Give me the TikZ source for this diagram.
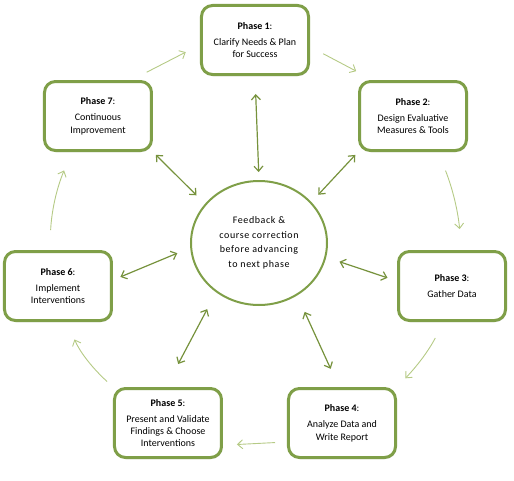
\documentclass[tikz,border=0pt]{standalone}
\usepackage{fontspec}
\setmainfont{Carlito}
\newfontfamily\spaced[LetterSpace=6]{Carlito}
\usetikzlibrary{arrows.meta,shapes.geometric,shadows}
\definecolor{phasegreen}{HTML}{7F9F48}
\definecolor{linkgreen}{HTML}{76923C}
\definecolor{cyclegreen}{HTML}{B5CA85}

\begin{document}
\begin{tikzpicture}[x=1pt,y=1pt,
    phase/.style={draw=phasegreen, line width=3pt, rounded corners=11pt, fill=white,
      minimum width=107pt, minimum height=69pt, align=center,
      font=\fontsize{10}{12.3}\selectfont,
      drop shadow={shadow xshift=1pt,shadow yshift=-1.5pt,opacity=.3}},
    hub/.style={ellipse, draw=phasegreen, line width=2pt, minimum width=136pt,
      minimum height=124pt, align=center, font=\spaced\fontsize{10}{14.6}\selectfont},
    link/.style={{Straight Barb[length=5pt,width=9pt]}-{Straight Barb[length=5pt,width=9pt]},
      draw=linkgreen, line width=1.2pt},
    cyc/.style={-{Straight Barb[length=5pt,width=9pt]}, draw=cyclegreen, line width=0.9pt}]

  \useasboundingbox (-259,243) rectangle (255,-237);

  \node[hub]   (fb) at (0,0)       {Feedback \&\\course correction\\before advancing\\to next phase};
  \node[phase] (p1) at (-4,203)    {\textbf{Phase 1}:\\[4pt]Clarify Needs \& Plan\\for Success};
  \node[phase] (p2) at (154,127)   {\textbf{Phase 2}:\\[4pt]Design Evaluative\\Measures \& Tools};
  \node[phase] (p3) at (193,-43)   {\textbf{Phase 3}:\\[4pt]Gather Data};
  \node[phase] (p4) at (83,-180)   {\textbf{Phase 4}:\\[4pt]Analyze Data and\\Write Report};
  \node[phase] (p5) at (-91,-180)  {\textbf{Phase 5}:\\[4pt]Present and Validate\\Findings \& Choose\\Interventions};
  \node[phase] (p6) at (-201,-43)  {\textbf{Phase 6}:\\[4pt]Implement\\Interventions};
  \node[phase] (p7) at (-161,127)  {\textbf{Phase 7}:\\[4pt]Continuous\\Improvement};

  % feedback links
  \path (p1.south) edge[link, shorten <=18pt, shorten >=8pt] (fb.north);
  \path (p2.south west) edge[link, shorten <=4pt, shorten >=10pt] (fb.38);
  \path (fb.-12) edge[link, shorten <=14pt, shorten >=10pt] ([yshift=5pt]p3.west);
  \path (fb.-54) edge[link, shorten <=18pt, shorten >=20pt] ([xshift=-3pt]p4.north);
  \path (fb.229) edge[link, shorten <=19pt, shorten >=26pt] ([xshift=-2pt]p5.north);
  \path (fb.184) edge[link, shorten <=14pt, shorten >=8pt] ([yshift=6pt]p6.east);
  \path (p7.south east) edge[link, shorten <=4pt, shorten >=12pt] (fb.144);

  % the cycle
  \path (p1.-7) edge[cyc, shorten <=15pt, shorten >=19pt] (p2.138);
  \path (p2.-55) edge[cyc, bend left=8, shorten <=20pt, shorten >=21pt] (p3.75);
  \path (p3.-103) edge[cyc, bend left=8, shorten <=18pt, shorten >=12pt] (p4.north east);
  \path (p4.199) edge[cyc, shorten <=12pt, shorten >=14pt] (p5.-22);
  \path (p5.north west) edge[cyc, bend left=12, shorten <=8pt, shorten >=19pt] (p6.-76);
  \path (p6.103) edge[cyc, bend left=10, shorten <=20pt, shorten >=20pt] (p7.-126);
  \path (p7.47) edge[cyc, shorten <=17pt, shorten >=16pt] (p1.185);
\end{tikzpicture}
\end{document}
